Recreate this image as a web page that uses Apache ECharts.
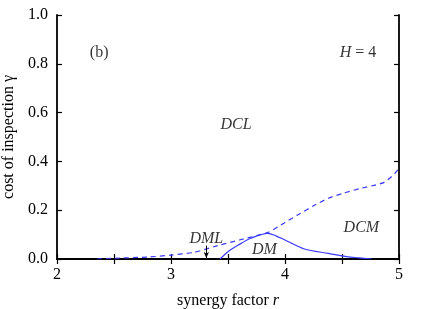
<!DOCTYPE html>
<html><head><meta charset="utf-8">
<script src="https://cdn.jsdelivr.net/npm/echarts@6/dist/echarts.min.js"></script>
<style>html,body{margin:0;padding:0;background:#fff}#c{width:436px;height:309px}</style>
</head><body><div id="c"></div>
<script>
// DCL / DM(L) boundary (dashed)
const dashedR = [2.35, 2.5, 2.8, 3.0, 3.2, 3.41, 3.6, 3.85, 4.0, 4.11, 4.25, 4.38, 4.5, 4.67, 4.8, 4.87, 4.95, 4.99];
const dashedG = [0.0, 0.003, 0.008, 0.016, 0.027, 0.055, 0.078, 0.109, 0.15, 0.18, 0.218, 0.249, 0.268, 0.29, 0.304, 0.314, 0.344, 0.365];
// DM region boundary (solid)
const solidR = [3.43, 3.5, 3.59, 3.70, 3.85, 3.92, 4.0, 4.17, 4.38, 4.55, 4.65, 4.76];
const solidG = [0.0, 0.03, 0.057, 0.085, 0.105, 0.095, 0.078, 0.041, 0.023, 0.009, 0.005, 0.0];
// region annotations
const annR = [3.57, 4.67, 3.82, 3.31];
const annG = [0.549, 0.127, 0.037, 0.082];
const annText = ['DCL', 'DCM', 'DM', 'DML'];
const xTickLabels = ['2', '3', '4', '5'];

const serif = '"Liberation Serif","DejaVu Serif",serif';
const fs = 16;
const blue = '#3a3aff';
const chart = echarts.init(document.getElementById('c'));
const axisCommon = {
  axisLine: {show: true, lineStyle: {color: '#000', width: 1.8}},
  axisTick: {show: true, inside: true, length: 5, lineStyle: {color: '#000', width: 1.2}},
  splitLine: {show: false}
};
chart.setOption({
  animation: false,
  backgroundColor: '#fff',
  grid: {left: 57, right: 37, top: 15, bottom: 50, containLabel: false, outerBoundsMode: 'none'},
  xAxis: [
    Object.assign({type: 'value', min: 2, max: 5, interval: 0.5, position: 'bottom',
      name: 'synergy factor {i|r}', nameLocation: 'middle', nameGap: 34,
      nameTextStyle: {fontFamily: serif, fontSize: fs, color: '#000',
        rich: {i: {fontFamily: serif, fontSize: fs, fontStyle: 'italic', color: '#000'}}},
      axisLabel: {fontFamily: serif, fontSize: fs, color: '#000', margin: 8,
        formatter: v => (Math.abs(v - Math.round(v)) < 1e-9 && xTickLabels.includes(String(Math.round(v)))) ? String(Math.round(v)) : ''}
    }, axisCommon),
    Object.assign({type: 'value', min: 2, max: 5, interval: 0.5, position: 'top', axisLabel: {show: false}}, axisCommon)
  ],
  yAxis: [
    Object.assign({type: 'value', min: 0, max: 1, interval: 0.2, position: 'left',
      name: 'cost of inspection γ', nameLocation: 'middle', nameGap: 40, nameRotate: 90,
      nameTextStyle: {fontFamily: serif, fontSize: fs, color: '#000'},
      axisLabel: {fontFamily: serif, fontSize: fs, color: '#000', margin: 9, formatter: v => v.toFixed(1)}
    }, axisCommon),
    Object.assign({type: 'value', min: 0, max: 1, interval: 0.2, position: 'right', axisLabel: {show: false}}, axisCommon)
  ],
  series: [
    {type: 'line', data: dashedR.map((r, i) => [r, dashedG[i]]), showSymbol: false, smooth: 0.2,
      lineStyle: {color: blue, width: 1.2, type: [5, 4]}},
    {type: 'line', data: solidR.map((r, i) => [r, solidG[i]]), showSymbol: false, smooth: 0.3,
      lineStyle: {color: blue, width: 1.2}},
    {type: 'scatter', symbolSize: 0, data: annR.map((r, i) => [r, annG[i], annText[i]]),
      label: {show: true, position: 'inside', formatter: p => p.data[2],
        fontFamily: serif, fontSize: fs, fontStyle: 'italic', color: '#000'},
      markLine: {silent: true, symbol: ['none', 'arrow'], symbolSize: [4, 6],
        lineStyle: {color: '#000', width: 1, type: 'solid'}, label: {show: false},
        data: [[{coord: [3.31, 0.055]}, {coord: [3.31, 0.004]}]]}},
    {type: 'scatter', symbolSize: 0, data: [[2.37, 0.844, 'b'], [4.64, 0.844, 'h']],
      label: {show: true, position: 'inside',
        formatter: p => p.data[2] === 'b' ? '(b)' : '{i|H} = 4',
        fontFamily: serif, fontSize: fs, color: '#000',
        rich: {i: {fontFamily: serif, fontSize: fs, fontStyle: 'italic', color: '#000'}}}}
  ]
});
</script></body></html>
